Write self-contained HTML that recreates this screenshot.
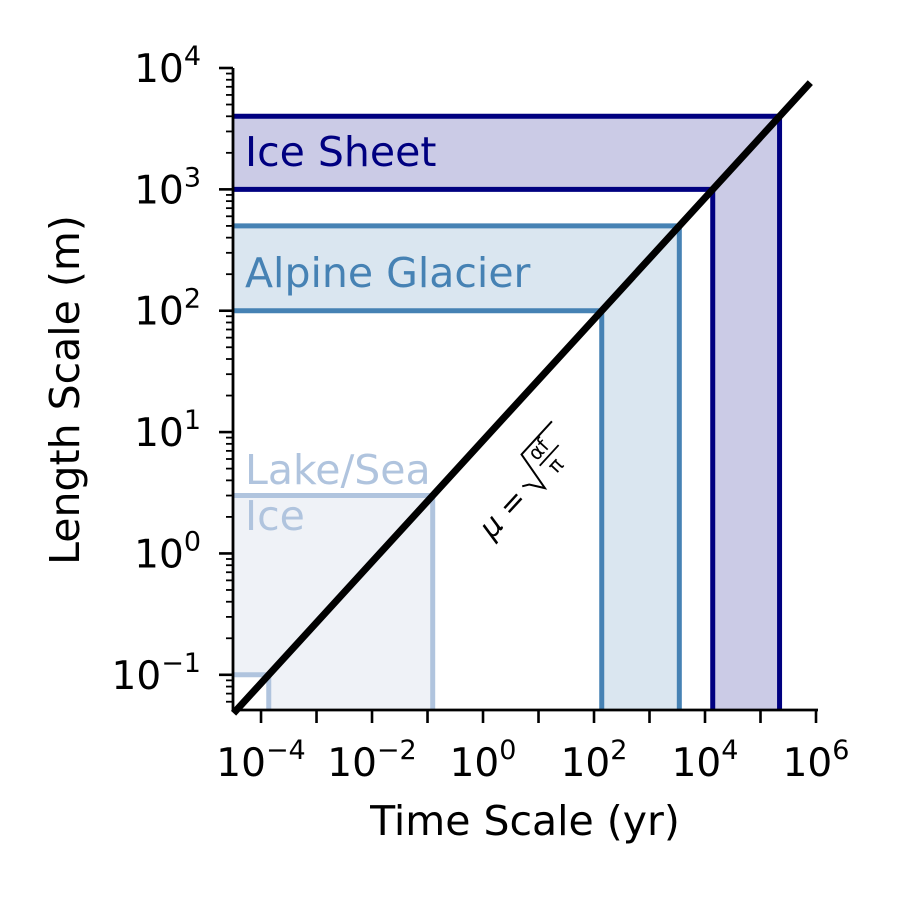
<!DOCTYPE html>
<html><head><meta charset="utf-8"><style>
html,body{margin:0;padding:0;background:#fff;}
svg text{font-family:"DejaVu Sans","Liberation Sans",sans-serif;}
</style></head><body>
<svg id="chart" width="900" height="900" viewBox="0 0 900 900" xmlns="http://www.w3.org/2000/svg">
<defs><clipPath id="clip"><rect x="233" y="68" width="585" height="642"/></clipPath></defs>
<g id="plot" clip-path="url(#clip)"></g>
<g id="axes"></g>
</svg>
<script>
const categories = ["Ice Sheet", "Alpine Glacier", "Lake/Sea Ice"];
const lengthMin = [1000, 100, 0.1];
const lengthMax = [4000, 500, 3];
const edgeColors = ["#000080", "#4682b4", "#b0c4de"];
const fillColors = ["#cbcbe6", "#dae6f0", "#eff2f7"];
const diffusivity = 228; // m^2/yr
const xTickExps = [-4, -2, 0, 2, 4, 6];
const yTickExps = [-1, 0, 1, 2, 3, 4];

const X0 = 233, X1 = 818, Y0 = 710, Y1 = 68;
const xMinE = -4.505, xMaxE = 6.036, yMinE = -1.29, yMaxE = 4;
const sx = t => X0 + (Math.log10(t) - xMinE) / (xMaxE - xMinE) * (X1 - X0);
const sy = L => Y0 - (Math.log10(L) - yMinE) / (yMaxE - yMinE) * (Y0 - Y1);
const tOf = L => Math.PI * L * L / diffusivity;
const NS = "http://www.w3.org/2000/svg";
function mk(tag, attrs, parent) {
  const e = document.createElementNS(NS, tag);
  for (const k in attrs) e.setAttribute(k, attrs[k]);
  parent.appendChild(e); return e;
}
const plot = document.getElementById('plot');
const axes = document.getElementById('axes');

categories.forEach((c, i) => {
  const lx = X0 - 5, top = sy(lengthMax[i]), bot = sy(lengthMin[i]);
  const tr = sx(tOf(lengthMax[i])), tl = sx(tOf(lengthMin[i]));
  const g = mk('g', {}, plot);
  
  
  mk('polygon', {points: `${lx},${top} ${tr},${top} ${tr},${Y0+5} ${tl},${Y0+5} ${tl},${bot} ${lx},${bot}`, fill: fillColors[i]}, g);
  mk('polyline', {points: `${lx},${top} ${tr},${top} ${tr},${Y0+5}`, fill: 'none', stroke: edgeColors[i], 'stroke-width': 5}, g);
  mk('polyline', {points: `${lx},${bot} ${tl},${bot} ${tl},${Y0+5}`, fill: 'none', stroke: edgeColors[i], 'stroke-width': 5}, g);
});
const lineT = [3.2e-5, 7.9e5];
const ln = mk('line', {x1: sx(lineT[0]), y1: sy(Math.sqrt(diffusivity*lineT[0]/Math.PI)), x2: sx(lineT[1]), y2: sy(Math.sqrt(diffusivity*lineT[1]/Math.PI)), stroke: '#000', 'stroke-width': 7}, axes);



const labs = [["Ice Sheet", 245, 166, "#000080"], ["Alpine Glacier", 245, 287, "#4682b4"], ["Lake/Sea", 245, 484, "#b0c4de"], ["Ice", 245, 530, "#b0c4de"]];
labs.forEach(l => {
  const t = mk('text', {x: l[1], y: l[2], fill: l[3], 'font-size': 41}, axes);
  t.textContent = l[0];
  
  
});
const fg = mk('g', {transform: 'translate(492,540) rotate(-47.5)'}, axes);


mk('text', {x: 0, y: 0, 'font-size': 30, 'font-style': 'italic'}, fg).textContent = 'μ = ';
mk('path', {d: 'M60,-14 L66,-10 L74,4 L83,-36 L128,-36', fill: 'none', stroke: '#000', 'stroke-width': 2}, fg);
mk('text', {x: 88, y: -20, 'font-size': 20}, fg).textContent = 'αf';
mk('line', {x1: 87, y1: -15, x2: 115, y2: -15, stroke: '#000', 'stroke-width': 1.8}, fg);
mk('text', {x: 92, y: 3, 'font-size': 20}, fg).textContent = 'π';

const sp = mk('path', {d: `M${X0},${Y1} L${X0},${Y0} L${X1},${Y0}`, fill: 'none', stroke: '#000', 'stroke-width': 2.8}, axes);


for (let e = -4; e <= 6; e++) {
  mk('line', {x1: sx(Math.pow(10, e)), x2: sx(Math.pow(10, e)), y1: Y0, y2: Y0 + 13, stroke: '#000', 'stroke-width': 2.6}, axes);
}
xTickExps.forEach(e => {
  const t = mk('text', {x: sx(Math.pow(10, e)), y: 776, 'font-size': 39, 'text-anchor': 'middle'}, axes);
  
  
  t.innerHTML = `10<tspan dy="-17" font-size="27">${String(e).replace('-', '−')}</tspan>`;
});
for (let e = -2; e <= 4; e++) {
  for (let m = 1; m < 10; m++) {
    const v = m * Math.pow(10, e);
    const lg = Math.log10(v);
    if (lg < yMinE || lg > yMaxE + 1e-9) continue;
    const y = sy(v);
    mk('line', {x1: X0, x2: X0 - (m === 1 ? 14 : 7), y1: y, y2: y, stroke: '#000', 'stroke-width': m === 1 ? 2.6 : 1.8}, axes);
  }
}
yTickExps.forEach(e => {
  const t = mk('text', {x: 201, y: sy(Math.pow(10, e)) + 14, 'font-size': 39, 'text-anchor': 'end'}, axes);
  
  
  t.innerHTML = `10<tspan dy="-17" font-size="27">${String(e).replace('-', '−')}</tspan>`;
});
const xt = mk('text', {x: 525, y: 835, 'font-size': 41, 'text-anchor': 'middle'}, axes);
xt.textContent = 'Time Scale (yr)';


const yt = mk('text', {x: 0, y: 0, 'font-size': 41, 'text-anchor': 'middle', transform: 'translate(79,390) rotate(-90)'}, axes);
yt.textContent = 'Length Scale (m)';


</script>
</body></html>
